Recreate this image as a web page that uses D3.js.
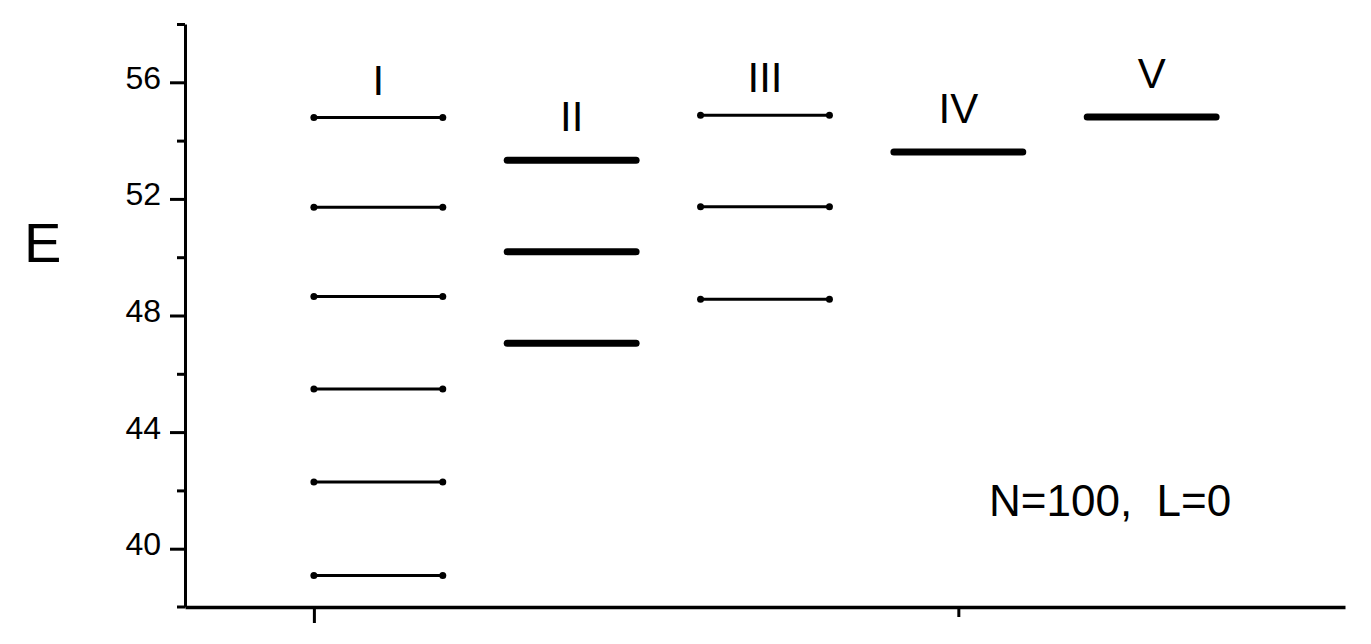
<!DOCTYPE html>
<html>
<head>
<meta charset="utf-8">
<script src="https://d3js.org/d3.v7.min.js"></script>
<style>
  body { margin: 0; background: #fff; }
  text { font-family: "Liberation Sans", Arial, sans-serif; fill: #000; }
</style>
</head>
<body>
<div id="chart"></div>
<script>
// energy levels
var groups = ["I", "II", "III", "IV", "V"];
var levelsI = [39.08, 42.29, 45.48, 48.65, 51.71, 54.79];
var levelsII = [47.05, 50.19, 53.33];
var levelsIII = [48.56, 51.73, 54.87];
var levelsIV = [53.61];
var levelsV = [54.81];
var yMajor = [40, 44, 48, 52, 56];
var yMinor = [42, 46, 50, 54, 58];
var xMajor = [2 / 3];
var xMinor = [4];
var note = "N=100,  L=0";

var allLevels = [levelsI, levelsII, levelsIII, levelsIV, levelsV];
var thick = ["II", "IV", "V"];

var w = 1371, h = 644;
var svg = d3.select("#chart").append("svg")
  .attr("width", w)
  .attr("height", h)
  .style("background", "#FFFFFF");

var x = d3.scaleLinear().domain([0, 6]).range([185, 1345]);
var y = d3.scaleLinear().domain([38, 58]).range([607, 24]);

// y axis
var gy = svg.append("g").attr("transform", "translate(" + x(0) + ",0)");
gy.call(d3.axisLeft(y).tickValues(yMajor).tickSize(15).tickSizeOuter(0).tickPadding(9));
gy.append("g").call(d3.axisLeft(y).tickValues(yMinor).tickSize(8).tickSizeOuter(0).tickFormat(""))
  .select(".domain").remove();
gy.selectAll("line").attr("stroke", "#000").attr("stroke-width", 3);
gy.select(".domain").attr("stroke", "#000").attr("stroke-width", 3);
gy.attr("font-size", 32);
gy.selectAll("text")
  .attr("dy", null)
  .attr("y", 6)
  .style("font-family", "'Liberation Sans', Arial, sans-serif");

// x axis
var gx = svg.append("g").attr("transform", "translate(0," + y(38) + ")");
gx.call(d3.axisBottom(x).tickValues(xMajor).tickSize(16).tickSizeOuter(0).tickFormat(""));
gx.append("g").call(d3.axisBottom(x).tickValues(xMinor).tickSize(10).tickSizeOuter(0).tickFormat(""))
  .select(".domain").remove();
gx.append("line").attr("x1", 177).attr("x2", x(0)).attr("y1", 0).attr("y2", 0);
gx.selectAll("line").attr("stroke", "#000").attr("stroke-width", 3);
gx.select(".domain").attr("stroke", "#000").attr("stroke-width", 3.5);

// levels
var half = 1 / 3;
var g = svg.selectAll("g.grp")
  .data(groups)
  .enter()
  .append("g")
  .attr("class", "grp");

g.each(function(name, i) {
  var grp = d3.select(this);
  var cx = i + 1;
  var isThick = thick.indexOf(name) >= 0;
  var lv = allLevels[i];

  grp.selectAll("line")
    .data(lv)
    .enter()
    .append("line")
    .attr("x1", x(cx - half))
    .attr("x2", x(cx + half))
    .attr("y1", function(d) { return y(d); })
    .attr("y2", function(d) { return y(d); })
    .attr("stroke", "#000")
    .attr("stroke-width", isThick ? 7 : 3)
    .attr("stroke-linecap", "round");

  if (!isThick) {
    lv.forEach(function(d) {
      [cx - half, cx + half].forEach(function(px) {
        grp.append("circle")
          .attr("cx", x(px))
          .attr("cy", y(d))
          .attr("r", 3.5)
          .attr("fill", "#000");
      });
    });
  }

  grp.append("text")
    .attr("x", x(cx))
    .attr("y", y(d3.max(lv)) - (isThick ? 29 : 23))
    .attr("text-anchor", "middle")
    .attr("font-size", 42)
    .text(name);
});

// axis title
svg.append("text")
  .attr("x", 24)
  .attr("y", 262)
  .attr("font-size", 56)
  .text("E");

// annotation
svg.append("text")
  .attr("x", 989)
  .attr("y", 516)
  .attr("font-size", 44)
  .style("white-space", "pre")
  .text(note);
</script>
</body>
</html>
